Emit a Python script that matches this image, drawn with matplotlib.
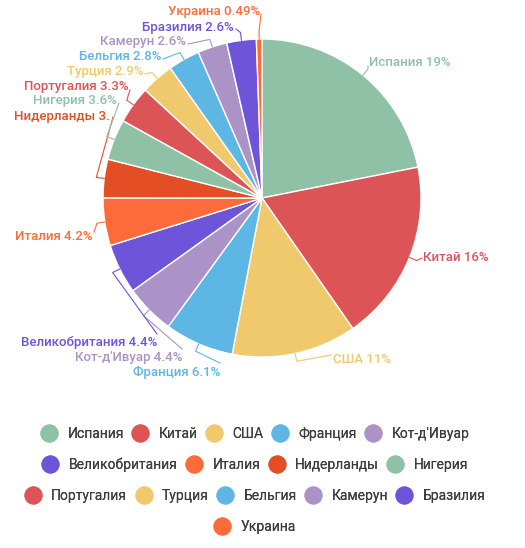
import numpy as np
import matplotlib
matplotlib.use("Agg")
import matplotlib.pyplot as plt
from matplotlib.lines import Line2D

plt.rcParams['font.family'] = ['Roboto', 'DejaVu Sans']

countries = ['Испания', 'Китай', 'США', 'Франция', "Кот-д'Ивуар", 'Великобритания',
             'Италия', 'Нидерланды', 'Нигерия', 'Португалия', 'Турция', 'Бельгия',
             'Камерун', 'Бразилия', 'Украина']
values = [19, 16, 11, 6.1, 4.4, 4.4, 4.2, 3.4, 3.6, 3.3, 2.9, 2.8, 2.6, 2.6, 0.49]
value_labels = ['19%', '16%', '11%', '6.1%', '4.4%', '4.4%', '4.2%', '3.', '3.6%',
                '3.3%', '2.9%', '2.8%', '2.6%', '2.6%', '0.49%']

palette = ['#8ec1a5', '#dd5457', '#efc96b', '#5eb6e4', '#ab93c7', '#6d54d8', '#fd6b3a', '#e34e24']
colors = [palette[i % len(palette)] for i in range(len(values))]

# pixel layout of the reference (center and radius of the pie)
W, H = 525, 548
CX, CY, R = 262, 198, 159


def px(x, y):
    return (x - CX) / R, (CY - y) / R


# label text position (pixels), alignment, leader end (pixels)
label_pos = [(369, 63), (423, 258), (333, 360), (220, 373), (182, 358), (157, 343),
             (93, 237), (110, 117), (117, 101), (129, 87), (143, 72), (161, 57),
             (186, 42), (234, 27), (260, 12)]
label_ha = ['left', 'left', 'left'] + ['right'] * 12
line_end = [(368, 66), (422, 258), (331, 355), (220, 363), (182, 349), (157, 334),
            (94, 232), (113, 117), (119, 103), (130, 90), (145, 74), (163, 59),
            (188, 44), (236, 29), (261, 14)]

fig = plt.figure(figsize=(W / 100, H / 100), dpi=100)
ax = fig.add_axes([0, 0, 1, 1])

wedges, _ = ax.pie(values, colors=colors, startangle=90, counterclock=False,
                   radius=1, wedgeprops=dict(edgecolor='white', linewidth=1))
ax.set_aspect('auto')
ax.set_xlim(-CX / R, (W - CX) / R)
ax.set_ylim(-(H - CY) / R, CY / R)
ax.axis('off')

for i, w in enumerate(wedges):
    ang = np.deg2rad((w.theta1 + w.theta2) / 2)
    x0, y0 = np.cos(ang), np.sin(ang)
    x1, y1 = 1.05 * x0, 1.05 * y0
    ex, ey = px(*line_end[i])
    ax.plot([x0, x1, ex], [y0, y1, ey], color=colors[i], lw=0.8)
    tx, ty = px(*label_pos[i])
    ax.text(tx, ty, countries[i] + ' ' + value_labels[i], color=colors[i],
            ha=label_ha[i], va='center', fontsize=9.5, fontweight='medium')

# legend rows, centered like the original
rows = [range(0, 5), range(5, 9), range(9, 14), range(14, 15)]
row_y = [434, 465, 496, 527]
for r, yy in zip(rows, row_y):
    handles = [Line2D([], [], marker='o', ls='', markersize=12,
                      markerfacecolor=colors[i], markeredgecolor=colors[i]) for i in r]
    leg = fig.legend(handles, [countries[i] for i in r], loc='center',
                     bbox_to_anchor=(0.487, 1 - yy / H), ncol=len(r), frameon=False,
                     handlelength=1.0, handletextpad=0.82, columnspacing=0.68,
                     fontsize=10, labelcolor='#3d3d3d')
    fig.add_artist(leg)

fig.savefig('out.png', dpi=100, facecolor='white')
